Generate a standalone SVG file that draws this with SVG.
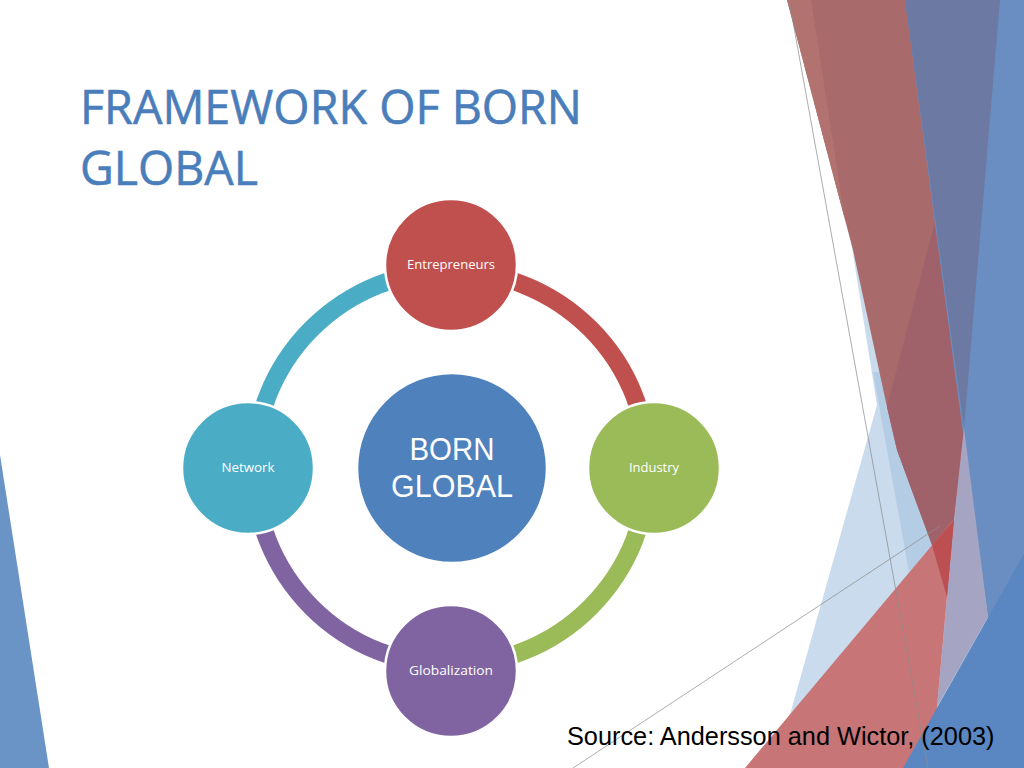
<svg xmlns="http://www.w3.org/2000/svg" width="1024" height="768" viewBox="0 0 1024 768">
<style>
.title{font-family:"Open Sans","Liberation Sans",sans-serif;font-size:48px;fill:#4A7EBB;stroke:#4A7EBB;stroke-width:0.6}
.lbl{font-family:"Open Sans","Liberation Sans",sans-serif;font-size:12.5px;fill:#FFFFFF;text-anchor:middle}
.big{font-family:"Liberation Sans",Arial,sans-serif;font-size:31px;fill:#FFFFFF;text-anchor:middle}
.src{font-family:"Liberation Sans",Arial,sans-serif;font-size:25.3px;fill:#000000}
.arc{fill:none;stroke-width:18}
.node{stroke:#FFFFFF;stroke-width:2.5}
.thin{stroke:#8C8C8C;stroke-width:0.9;fill:none;opacity:0.8}
</style>
<rect width="1024" height="768" fill="#FFFFFF"/>
<g id="background">
<polygon points="0,455 49,768 0,768" fill="#6A94C5"/>
<polygon points="850,235 877,405 775,768 1024,768 1024,235" fill="#C9DBED"/>
<polygon points="873,372 893,372 934,543 909,572" fill="#B5CCE5"/>
<polygon points="787,0 1000,0 965,430 954,520 947,597 932,545 897,450 887,407 853,250" fill="#A96A6B"/>
<polygon points="787,0 811,0 845,220" fill="#B27370"/>
<polygon points="935,221 964,428 954,520 947,597 932,545 897,450 887,407" fill="#A0626A"/>
<polygon points="905,0 1024,0 1024,768 1008,768" fill="#6A8EC1"/>
<polygon points="905,0 1000,0 964,428" fill="#6C79A2"/>
<polygon points="964,428 988,617 937,707 947,597 954,520" fill="#A5A5C3"/>
<polygon points="745,768 954,519 937,707 930,768" fill="#C87577"/>
<polygon points="932,545 954,520 947,597" fill="#BC4F52"/>
<polygon points="903,768 1024,554 1024,768" fill="#5A86C1"/>
<line class="thin" x1="789" y1="0" x2="928" y2="768"/>
<line class="thin" x1="573" y1="768" x2="940" y2="526"/>
</g>
<g id="title">
<text class="title" x="80" y="124" textLength="502" lengthAdjust="spacingAndGlyphs">FRAMEWORK OF BORN</text>
<text class="title" x="80" y="185" textLength="178" lengthAdjust="spacingAndGlyphs">GLOBAL</text>
</g>
<g id="connectors">
<path class="arc" stroke="#C0504D" d="M 451 271 A 197 197 0 0 1 648 468"/>
<path class="arc" stroke="#9BBB59" d="M 648 468 A 197 197 0 0 1 451 665"/>
<path class="arc" stroke="#8064A2" d="M 451 665 A 197 197 0 0 1 254 468"/>
<path class="arc" stroke="#4BACC6" d="M 254 468 A 197 197 0 0 1 451 271"/>
</g>
<g id="node-center">
<circle class="node" cx="452" cy="468" r="95" fill="#4F81BD"/>
<text class="big" x="452" y="460" textLength="85" lengthAdjust="spacingAndGlyphs">BORN</text>
<text class="big" x="452" y="497" textLength="122" lengthAdjust="spacingAndGlyphs">GLOBAL</text>
</g>
<g id="node-entrepreneurs">
<circle class="node" cx="451" cy="265" r="66" fill="#C0504D"/>
<text class="lbl" x="451" y="269" textLength="88" lengthAdjust="spacingAndGlyphs">Entrepreneurs</text>
</g>
<g id="node-industry">
<circle class="node" cx="654" cy="468" r="66" fill="#9BBB59"/>
<text class="lbl" x="654" y="472" textLength="50" lengthAdjust="spacingAndGlyphs">Industry</text>
</g>
<g id="node-globalization">
<circle class="node" cx="451" cy="671" r="66" fill="#8064A2"/>
<text class="lbl" x="451" y="675" textLength="84" lengthAdjust="spacingAndGlyphs">Globalization</text>
</g>
<g id="node-network">
<circle class="node" cx="248" cy="468" r="66" fill="#4BACC6"/>
<text class="lbl" x="248" y="472" textLength="53" lengthAdjust="spacingAndGlyphs">Network</text>
</g>
<g id="source">
<text class="src" x="567" y="745">Source: Andersson and Wictor, (2003)</text>
</g>
</svg>
